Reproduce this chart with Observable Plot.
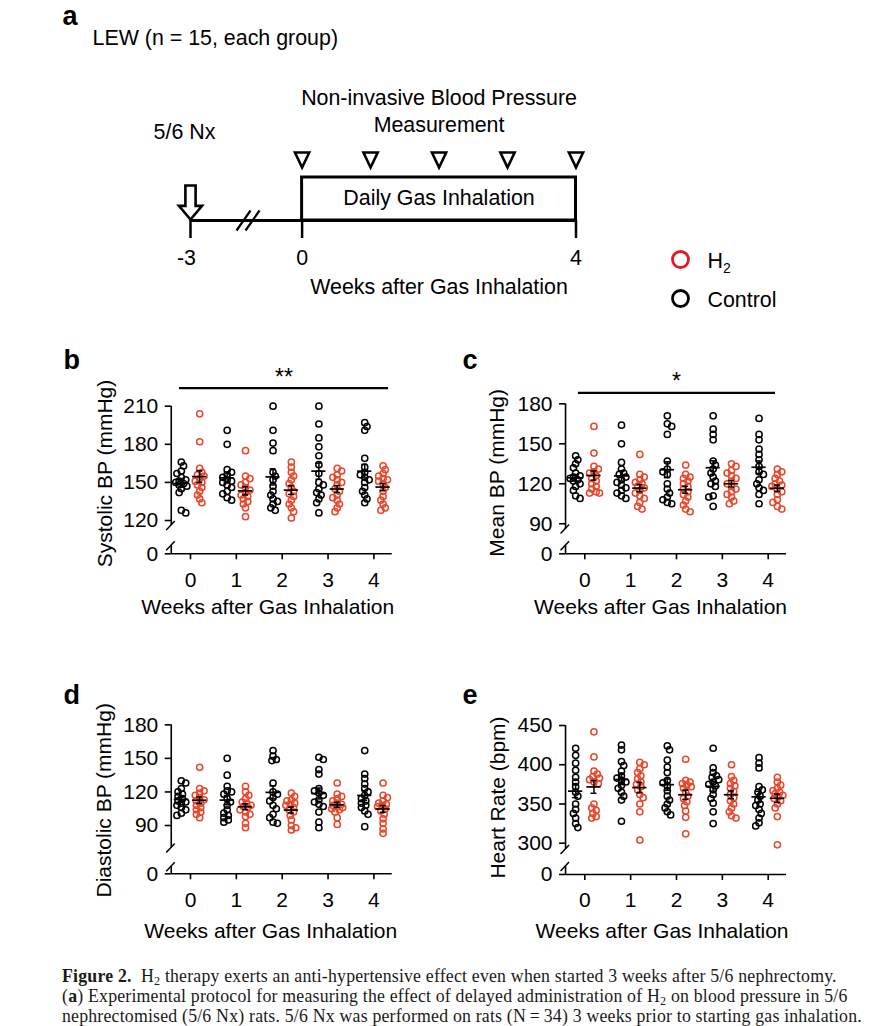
<!DOCTYPE html>
<html><head><meta charset="utf-8">
<script src="https://cdn.jsdelivr.net/npm/d3@7"></script>
<script src="https://cdn.jsdelivr.net/npm/@observablehq/plot@0.6"></script>
<style>
html,body{margin:0;padding:0;background:#fff;}
body{width:884px;height:1026px;position:relative;overflow:hidden;}
.panel{position:absolute;}
#caption{position:absolute;left:62px;top:966px;font-family:"Liberation Serif","Times New Roman",serif;font-size:17.8px;letter-spacing:0.2px;line-height:20px;white-space:nowrap;color:#1a1a1a;}
#caption sub{font-size:0.68em;vertical-align:-0.25em;line-height:0;}
</style></head><body>
<div id="pa" class="panel" style="left:0;top:0;width:884px"></div>
<div id="pb" class="panel"></div>
<div id="pc" class="panel"></div>
<div id="pd" class="panel"></div>
<div id="pe" class="panel"></div>
<div id="caption"><b>Figure 2.</b>&nbsp; H<sub>2</sub> therapy exerts an anti-hypertensive effect even when started 3 weeks after 5/6 nephrectomy.<br>(<b>a</b>) Experimental protocol for measuring the effect of delayed administration of H<sub>2</sub> on blood pressure in 5/6<br>nephrectomised (5/6 Nx) rats. 5/6 Nx was performed on rats (N&thinsp;=&thinsp;34) 3 weeks prior to starting gas inhalation.</div>
<script>
// ---------------- DATA ----------------
const weeks = [0, 1, 2, 3, 4];
const protocolTicks = [-3, 0, 4];
const measureWeeks = [0, 1, 2, 3, 4];
const surgeryWeek = -3;
const breakWeek = -1.44;

const sbpControl = [
  [166,163,159,157,154,152,151,150,149,148,147,145,142,128,126],
  [191,180,160,158,156,154,152,151,150,148,146,143,141,138,136],
  [210,191,181,175,158,155,152,147,143,140,137,135,133,130,128],
  [210,196,185,178,171,164,157,150,148,145,142,140,137,134,126],
  [197,194,191,169,162,158,156,154,152,150,146,143,140,137,134]
];
const sbpH2 = [
  [204,182,161,158,156,155,153,151,150,148,146,143,140,137,134],
  [175,155,153,150,148,146,144,142,140,139,137,135,133,130,123],
  [166,162,158,155,152,149,146,143,141,139,136,133,130,127,122],
  [161,159,156,154,152,150,148,145,143,140,138,136,133,130,127],
  [163,160,157,155,153,152,151,149,146,143,139,136,133,130,128]
];
const mbpControl = [
  [141,138,135,132,128,126,125,124,123,122,120,118,115,111,109],
  [164,150,136,131,128,127,125,123,121,119,117,115,113,111,109],
  [171,165,163,157,137,131,129,127,120,116,113,110,108,106,105],
  [171,161,157,153,137,134,131,128,125,122,120,118,111,110,103],
  [169,157,153,146,142,138,133,129,127,123,120,117,115,112,105]
];
const mbpH2 = [
  [163,143,133,131,129,128,126,124,122,120,118,116,114,113,113],
  [142,127,125,123,121,120,118,117,115,113,111,109,106,103,101],
  [134,127,125,124,122,120,118,116,114,112,110,107,104,101,99],
  [135,133,130,128,126,124,122,120,118,116,114,112,110,107,105],
  [131,129,127,124,122,120,119,118,116,114,112,108,106,103,101]
];
const dbpControl = [
  [130,128,123,120,118,116,114,112,111,110,108,106,104,101,99],
  [150,135,125,121,120,118,114,111,108,104,101,99,97,95,93],
  [157,152,149,148,128,120,118,115,112,108,105,100,97,93,92],
  [151,149,140,136,123,121,119,117,113,111,109,107,102,93,88],
  [157,136,132,127,123,120,117,114,112,110,108,106,103,100,89]
];
const dbpH2 = [
  [142,123,121,119,117,115,113,112,110,108,106,104,102,100,97],
  [125,120,117,114,111,110,108,107,106,104,102,100,98,92,88],
  [119,116,113,112,110,109,108,106,104,102,99,95,90,88,86],
  [128,118,116,114,112,110,109,108,107,106,105,104,102,97,91],
  [128,117,115,112,110,109,108,107,105,103,100,96,92,87,83]
];
const hrControl = [
  [421,412,402,393,384,378,372,365,360,350,343,338,332,325,320],
  [425,419,404,399,392,386,383,380,378,374,370,365,360,355,328],
  [424,419,406,397,390,380,377,373,367,360,355,350,345,340,336],
  [421,396,390,386,384,381,378,375,373,368,362,357,351,340,325],
  [409,402,396,372,368,365,360,355,350,348,343,338,332,326,322]
];
const hrH2 = [
  [442,410,392,388,385,383,381,378,376,350,345,342,338,334,332],
  [403,400,395,390,386,382,378,375,372,368,362,358,350,340,304],
  [407,380,378,376,374,372,370,365,360,357,353,348,341,333,312],
  [400,385,380,376,373,370,366,362,358,354,350,345,340,335,332],
  [384,378,374,370,367,365,363,361,359,357,354,350,345,334,298]
];
const sbpTicks = [0, 120, 150, 180, 210];
const mbpTicks = [0, 90, 120, 150, 180];
const dbpTicks = [0, 90, 120, 150, 180];
const hrTicks  = [0, 300, 350, 400, 450];

// ---------------- STYLE ----------------
const FONT = '"Liberation Sans", Arial, Helvetica, sans-serif';
const RED_PT = "#e8472c";
const RED_LEG = "#e3191e";

function symbolFrom(fn) { return {draw(ctx, size) { const r = Math.sqrt(size / Math.PI); fn(ctx, r); }}; }
const triDown = symbolFrom((c, r) => { c.moveTo(-0.95*r, -r); c.lineTo(0.95*r, -r); c.lineTo(0, r); c.closePath(); });
const arrowDown = symbolFrom((c, r) => { const s = 0.3*r, h = 0.68*r, b = 0.2*r;
  c.moveTo(-s, -r); c.lineTo(s, -r); c.lineTo(s, b); c.lineTo(h, b); c.lineTo(0, r); c.lineTo(-h, b); c.lineTo(-s, b); c.closePath(); });
const dblSlash = symbolFrom((c, r) => { const k = r/10;
  c.moveTo(-12*k, 10*k); c.lineTo(2*k, -10*k); c.moveTo(-3*k, 10*k); c.lineTo(11*k, -10*k); });
const slash = symbolFrom((c, r) => { const k = r/6; c.moveTo(-5*k, 4.5*k); c.lineTo(3.5*k, -4.5*k); });

// ---------------- PANEL A ----------------
const A = Plot.plot({
  width: 884, height: 330, margin: 0,
  x: {type: "linear", domain: [-3, 0, 4], range: [190, 301.6, 575.5], axis: null},
  y: {type: "linear", domain: [0, 330], range: [0, 330], axis: null},
  style: {fontFamily: FONT, fontSize: "21.4px", color: "black", background: "transparent"},
  marks: [
    Plot.text(["a"], {frameAnchor: "top-left", dx: 62, dy: 16, text: d => d, textAnchor: "start", lineAnchor: "middle", fontWeight: "bold", fontSize: 27}),
    Plot.text(["LEW (n = 15, each group)"], {frameAnchor: "top-left", dx: 92, dy: 38, text: d => d, textAnchor: "start", lineAnchor: "middle"}),
    Plot.text(["Non-invasive Blood Pressure"], {x: () => 2, y: () => 98, text: d => d}),
    Plot.text(["Measurement"], {x: () => 2, y: () => 125, text: d => d}),
    Plot.text(["5/6 Nx"], {x: () => surgeryWeek, y: () => 132, dx: -6, text: d => d}),
    Plot.rect([0], {x1: () => 0, x2: () => 4, y1: () => 177, y2: () => 220, fill: "none", stroke: "black", strokeWidth: 3}),
    Plot.ruleY([220], {y: d => d, x1: () => -3, x2: () => 4, stroke: "black", strokeWidth: 3}),
    Plot.ruleX(protocolTicks, {x: d => d, y1: () => 220, y2: () => 238, stroke: "black", strokeWidth: 2.5}),
    Plot.text(["Daily Gas Inhalation"], {x: () => 2, y: () => 198, text: d => d}),
    Plot.dot(measureWeeks, {x: d => d, y: () => 159.5, symbol: triDown, r: 7.5, stroke: "black", strokeWidth: 2.6, fill: "white"}),
    Plot.dot([surgeryWeek], {x: d => d, y: () => 202, symbol: arrowDown, r: 17, stroke: "black", strokeWidth: 2.6, fill: "white"}),
    Plot.dot([breakWeek], {x: d => d, y: () => 220, symbol: dblSlash, r: 10, stroke: "black", strokeWidth: 2.2, fill: "none"}),
    Plot.text(protocolTicks.filter(d => d !== -3), {x: d => d, y: () => 258, text: d => String(d)}),
    Plot.text([-3], {x: d => d, y: () => 258, dx: -4, text: d => String(d)}),
    Plot.text(["Weeks after Gas Inhalation"], {x: () => 2, y: () => 287, text: d => d}),
    Plot.dot([0], {frameAnchor: "top-left", dx: 680, dy: 259, r: 8, stroke: RED_LEG, strokeWidth: 2.8, fill: "none"}),
    Plot.dot([0], {frameAnchor: "top-left", dx: 680, dy: 298, r: 8, stroke: "black", strokeWidth: 2.8, fill: "none"}),
    Plot.text(["H"], {frameAnchor: "top-left", dx: 707, dy: 261, text: d => d, textAnchor: "start", lineAnchor: "middle"}),
    Plot.text(["2"], {frameAnchor: "top-left", dx: 722.5, dy: 268, text: d => d, textAnchor: "start", lineAnchor: "middle", fontSize: 14}),
    Plot.text(["Control"], {frameAnchor: "top-left", dx: 707, dy: 300, text: d => d, textAnchor: "start", lineAnchor: "middle"})
  ]
});
document.getElementById("pa").appendChild(A);

// ---------------- SCATTER PANELS ----------------
function swarm(vals, yPx, kx) {
  const P = vals.map(v => ({py: yPx(v), ox: 0}));
  const idx = d3.range(P.length).sort((a, b) => P[a].py - P[b].py);
  const placed = [];
  const minD = 4.4, step = 1.1, maxK = 5;
  let flip = 1;
  for (const i of idx) {
    const p = P[i];
    let chosen = null, bestOv = Infinity, bestOx = 0;
    for (let k = 0; k <= maxK && chosen === null; k++) {
      const cands = k === 0 ? [0] : [flip*k*step, -flip*k*step];
      for (const ox of cands) {
        let ov = 0;
        for (const q of placed) { const d = Math.hypot(q.ox - ox, q.py - p.py); if (d < minD) ov += minD - d; }
        if (ov === 0) { chosen = ox; break; }
        if (ov < bestOv) { bestOv = ov; bestOx = ox; }
      }
    }
    p.ox = chosen === null ? bestOx : chosen;
    if (p.ox !== 0) flip = -Math.sign(p.ox);
    placed.push(p);
  }
  return P.map(p => p.ox / kx);
}

function panel(cfg) {
  const kx = 45.85, xDomain = [-0.42, 4.4];
  const xRange = xDomain.map(d => cfg.x0 + d * kx - cfg.left);
  const yRange = cfg.yPage.map(p => p - cfg.top);
  const yPx = d3.scaleLinear().domain(cfg.yDomain).range(yRange);
  const pts = [], stats = [];
  [["Control", cfg.control, -0.2], ["H2", cfg.h2, 0.2]].forEach(([g, series, side]) => {
    series.forEach((vals, wi) => {
      const offs = swarm(vals, yPx, kx);
      vals.forEach((v, j) => pts.push({g, v, xp: weeks[wi] + side + offs[j]}));
      stats.push({g, xp: weeks[wi] + side, mean: d3.mean(vals), sem: d3.deviation(vals) / Math.sqrt(vals.length)});
    });
  });
  const yd = cfg.yDomain, yTop = yd[yd.length - 1];
  const frameLeftPage = cfg.x0 + xDomain[0] * kx;
  const frameTopPage = cfg.yPage[cfg.yPage.length - 1];
  const marks = [
    Plot.ruleY([0], {y: d => d, stroke: "black", strokeWidth: 1.6}),
    Plot.ruleX([xDomain[0]], {x: d => d, y1: () => yd[2], y2: () => yTop, stroke: "black", strokeWidth: 1.6}),
    Plot.ruleX([xDomain[0]], {x: d => d, y1: () => yd[0], y2: () => yd[1], stroke: "black", strokeWidth: 1.6}),
    Plot.dot([yd[1], yd[2]], {x: () => xDomain[0], y: d => d, symbol: slash, r: 6, stroke: "black", strokeWidth: 1.5, fill: "none"}),
    Plot.axisY(cfg.ticks, {tickSize: 6, tickPadding: 7, strokeWidth: 1.6, label: null}),
    Plot.axisX(weeks, {tickSize: 6, tickPadding: 12, strokeWidth: 1.6, label: null, tickFormat: d => String(d)}),
    Plot.dot(pts.filter(d => d.g === "Control"), {x: "xp", y: "v", r: 3.1, stroke: "black", strokeWidth: 1.5, fill: "none"}),
    Plot.dot(pts.filter(d => d.g === "H2"), {x: "xp", y: "v", r: 3.1, stroke: RED_PT, strokeWidth: 1.5, fill: "none"}),
    Plot.ruleY(stats, {y: "mean", x1: d => d.xp - 0.155, x2: d => d.xp + 0.155, stroke: "black", strokeWidth: 1.7}),
    Plot.ruleX(stats, {x: "xp", y1: d => d.mean - d.sem, y2: d => d.mean + d.sem, stroke: "black", strokeWidth: 1.5}),
    Plot.ruleY(stats, {y: d => d.mean + d.sem, x1: d => d.xp - 0.065, x2: d => d.xp + 0.065, stroke: "black", strokeWidth: 1.5}),
    Plot.ruleY(stats, {y: d => d.mean - d.sem, x1: d => d.xp - 0.065, x2: d => d.xp + 0.065, stroke: "black", strokeWidth: 1.5}),
    Plot.text([cfg.yLabel], {frameAnchor: "left", rotate: -90, dx: cfg.yl[0], dy: cfg.yl[1], text: d => d, textAnchor: "middle", lineAnchor: "middle"}),
    Plot.text(["Weeks after Gas Inhalation"], {frameAnchor: "bottom", dx: cfg.xl[0], dy: cfg.xl[1], text: d => d, textAnchor: "middle", lineAnchor: "middle"}),
    Plot.text([cfg.letter], {frameAnchor: "top-left", dx: cfg.letterPos[0] - frameLeftPage, dy: cfg.letterPos[1] - frameTopPage, text: d => d, textAnchor: "start", lineAnchor: "top", fontWeight: "bold", fontSize: 27})
  ];
  if (cfg.sig) {
    marks.push(Plot.ruleY([yTop], {y: d => d, x1: () => cfg.sig.x1, x2: () => cfg.sig.x2, dy: cfg.sig.lineDy, stroke: "black", strokeWidth: 2.2}));
    marks.push(Plot.text([cfg.sig.text], {x: () => cfg.sig.xc, y: () => yTop, dy: cfg.sig.textDy, text: d => d, fontSize: 23, lineAnchor: "middle"}));
  }
  const p = Plot.plot({
    width: cfg.width, height: cfg.height,
    marginLeft: xRange[0], marginRight: cfg.width - xRange[1],
    marginTop: yRange[yRange.length - 1], marginBottom: cfg.height - yRange[0],
    x: {type: "linear", domain: xDomain, range: xRange},
    y: {type: "linear", domain: yd, range: yRange},
    style: {fontFamily: FONT, fontSize: "21px", color: "black", background: "transparent"},
    marks
  });
  const el = document.getElementById(cfg.id);
  el.style.left = cfg.left + "px"; el.style.top = cfg.top + "px"; el.style.width = cfg.width + "px";
  el.appendChild(p);
}

panel({id: "pb", left: 40, top: 335, width: 400, height: 300, x0: 190,
  yDomain: [0, 8, 116, 210], yPage: [553.3, 545.3, 525.1, 405.7], ticks: sbpTicks,
  control: sbpControl, h2: sbpH2, yLabel: "Systolic BP (mmHg)", yl: [-65.7, -6.5], xl: [-14, 53],
  letter: "b", letterPos: [63, 349], sig: {text: "**", x1: -0.24, x2: 4.32, xc: 2.04, lineDy: -18, textDy: -29}});
panel({id: "pc", left: 440, top: 335, width: 410, height: 300, x0: 584.3,
  yDomain: [0, 8, 86, 180], yPage: [553.3, 545.3, 528.6, 403.3], ticks: mbpTicks,
  control: mbpControl, h2: mbpH2, yLabel: "Mean BP (mmHg)", yl: [-68, -6], xl: [-15.5, 53],
  letter: "c", letterPos: [462, 349], sig: {text: "*", x1: -0.14, x2: 4.16, xc: 2.0, lineDy: -11, textDy: -22}});
panel({id: "pd", left: 40, top: 670, width: 400, height: 290, x0: 190,
  yDomain: [0, 7, 70, 180], yPage: [873.3, 866.3, 847.4, 724.3], ticks: dbpTicks,
  control: dbpControl, h2: dbpH2, yLabel: "Diastolic BP (mmHg)", yl: [-66.7, 1], xl: [-11, 57],
  letter: "d", letterPos: [63, 684]});
panel({id: "pe", left: 440, top: 670, width: 410, height: 290, x0: 584.3,
  yDomain: [0, 8, 292, 450], yPage: [874, 866, 849, 725], ticks: hrTicks,
  control: hrControl, h2: hrH2, yLabel: "Heart Rate (bpm)", yl: [-67.5, -2.5], xl: [-14, 57],
  letter: "e", letterPos: [462, 684]});
</script>
</body></html>
